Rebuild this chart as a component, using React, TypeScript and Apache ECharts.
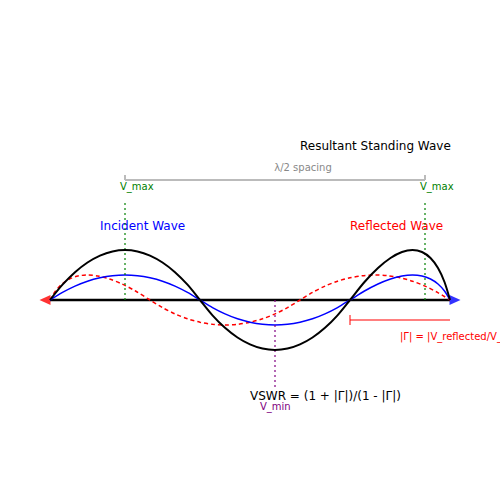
import React, { useEffect, useRef } from "react";
import * as echarts from "echarts";

// positions along the line (px-like units) and wave heights
const resultantX = [50, 62.5, 75, 87.5, 100, 112.5, 125, 137.5, 150, 162.5, 175, 187.5, 200, 212.5, 225, 237.5, 250, 262.5, 275, 287.5, 300, 312.5, 325, 337.5, 350, 364.5, 378, 390.5, 402, 412.5, 422, 430.5, 438, 444.5, 450];
const resultantY = [0, 15.3, 27.8, 37.5, 44.4, 48.6, 50, 48.6, 44.4, 37.5, 27.8, 15.3, 0, -15.3, -27.8, -37.5, -44.4, -48.6, -50, -48.6, -44.4, -37.5, -27.8, -15.3, 0, 18, 32, 42, 48, 50, 48, 42, 32, 18, 0];
const incidentY = [0, 7.6, 13.9, 18.8, 22.2, 24.3, 25, 24.3, 22.2, 18.8, 13.9, 7.6, 0, -7.6, -13.9, -18.8, -22.2, -24.3, -25, -24.3, -22.2, -18.8, -13.9, -7.6, 0, 9, 16, 21, 24, 25, 24, 21, 16, 9, 0];

const reflectedX = [50, 55.5, 62, 69.5, 78, 87.5, 98, 109.5, 122, 135.5, 150, 162.5, 175, 187.5, 200, 212.5, 225, 237.5, 250, 262.5, 275, 287.5, 300, 312.5, 325, 337.5, 350, 362.5, 375, 387.5, 400, 412.5, 425, 437.5, 450];
const reflectedY = [0, 9, 16, 21, 24, 25, 24, 21, 16, 9, 0, -7.6, -13.9, -18.8, -22.2, -24.3, -25, -24.3, -22.2, -18.8, -13.9, -7.6, 0, 7.6, 13.9, 18.8, 22.2, 24.3, 25, 24.3, 22.2, 18.8, 13.9, 7.6, 0];

const lineStart = 50;
const lineEnd = 450;
const vMaxX = [125, 425];
const vMinX = 275;
const spacingLevel = 120;
const gammaLevel = -20;
const gammaStart = 350;

const zip = (xs: number[], ys: number[]) => xs.map((x, i) => [x, ys[i]]);

const font = "DejaVu Sans";

const label = (text: string, x: number, y: number, color: string, size: number, align = "left") => ({
  type: "text",
  x,
  y,
  style: {
    text,
    fill: color,
    font: `${size}px "${font}"`,
    textAlign: align,
    textVerticalAlign: "middle",
  },
});

const App: React.FC = () => {
  const chartRef = useRef<HTMLDivElement>(null);

  useEffect(() => {
    const chart = echarts.init(chartRef.current!, null, { renderer: "svg" });

    chart.setOption({
      animation: false,
      backgroundColor: "#fff",
      grid: { left: 0, right: 0, top: 0, bottom: 0 },
      xAxis: { type: "value", min: 0, max: 500, show: false },
      yAxis: { type: "value", min: -200, max: 300, show: false },
      series: [
        {
          // arrow heads on the line ends
          type: "scatter",
          symbol: "triangle",
          symbolSize: [10, 11],
          silent: true,
          z: 1,
          data: [
            { value: [lineStart - 5, 0], symbolRotate: 90, itemStyle: { color: "red" } },
            { value: [lineEnd + 5, 0], symbolRotate: -90, itemStyle: { color: "blue" } },
          ],
        },
        {
          // transmission line
          type: "line",
          data: [[lineStart, 0], [lineEnd, 0]],
          symbol: "none",
          lineStyle: { color: "#000", width: 2.5 },
          z: 2,
          markLine: {
            silent: true,
            symbol: "none",
            label: { show: false },
            data: [
              ...vMaxX.map((x) => [
                { coord: [x, 0], lineStyle: { color: "green", type: [2, 3], width: 2, opacity: 0.6 } },
                { coord: [x, 100] },
              ]),
              [
                { coord: [vMinX, 0], lineStyle: { color: "purple", type: [2, 3], width: 2, opacity: 0.6 } },
                { coord: [vMinX, -90] },
              ],
              [
                { coord: [vMaxX[0], spacingLevel], lineStyle: { color: "#bbb", type: "solid", width: 2 } },
                { coord: [vMaxX[1], spacingLevel] },
              ],
              ...vMaxX.map((x) => [
                { coord: [x, spacingLevel], lineStyle: { color: "#bbb", type: "solid", width: 2 } },
                { coord: [x, spacingLevel + 5] },
              ]),
              [
                { coord: [gammaStart, gammaLevel], lineStyle: { color: "red", type: "solid", width: 2, opacity: 0.5 } },
                { coord: [lineEnd, gammaLevel] },
              ],
              [
                { coord: [gammaStart, gammaLevel + 5], lineStyle: { color: "red", type: "solid", width: 2, opacity: 0.5 } },
                { coord: [gammaStart, gammaLevel - 5] },
              ],
            ],
          },
        },
        {
          name: "Resultant",
          type: "line",
          data: zip(resultantX, resultantY),
          smooth: 0.3,
          symbol: "none",
          lineStyle: { color: "#000", width: 2 },
          z: 5,
        },
        {
          name: "Incident",
          type: "line",
          data: zip(resultantX, incidentY),
          smooth: 0.3,
          symbol: "none",
          lineStyle: { color: "blue", width: 1.5 },
          z: 4,
        },
        {
          name: "Reflected",
          type: "line",
          data: zip(reflectedX, reflectedY),
          smooth: 0.3,
          symbol: "none",
          lineStyle: { color: "red", width: 1.5, type: [4, 3] },
          z: 3,
        },
      ],
      graphic: [
        label("Resultant Standing Wave", 300, 146, "#000", 12),
        label("λ/2 spacing", 303, 167, "#888", 10, "center"),
        label("V_max", 120, 186, "green", 10),
        label("V_max", 420, 186, "green", 10),
        label("Incident Wave", 100, 226, "blue", 12),
        label("Reflected Wave", 350, 226, "red", 12),
        label("|Γ| = |V_reflected/V_incident|", 400, 336, "red", 10),
        label("VSWR = (1 + |Γ|)/(1 - |Γ|)", 250, 396, "#000", 12),
        label("V_min", 260, 406, "purple", 10),
      ],
    });

    return () => {
      chart.dispose();
    };
  }, []);

  return (
    <div
      ref={chartRef}
      style={{ position: "absolute", left: 0, top: 0, width: 500, height: 500 }}
    />
  );
};

export default App;
